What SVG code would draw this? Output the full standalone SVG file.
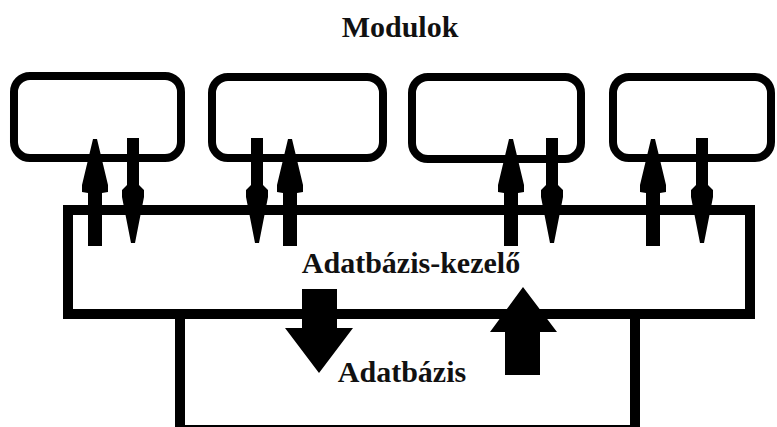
<svg xmlns="http://www.w3.org/2000/svg" width="777" height="427" viewBox="0 0 777 427">
<style>
.mod{fill:none;stroke:#000;stroke-width:8}
.box{fill:none;stroke:#000;stroke-width:10}
.lbl{font-family:'Liberation Serif','DejaVu Serif',serif;font-weight:bold;font-size:30px;fill:#111;text-anchor:middle}
.arr{fill:#000;stroke:none}
</style>
<defs>
<path id="up" d="M-2,139 L2,139 L13,185 L13,192 L7,193 L7,246 L-7,246 L-7,193 L-13,192 L-13,185 Z"/>
<path id="down" d="M-6,138 L6,138 L6,185 L11,190 L11,197 L2,243 L-2,243 L-11,197 L-11,190 L-6,185 Z"/>
</defs>
<rect width="777" height="427" fill="#fff"/>
<g id="title"><text class="lbl" x="400" y="37">Modulok</text></g>
<g id="modul1"><rect class="mod" x="14" y="76" width="167" height="82" rx="16"/></g>
<g id="modul2"><rect class="mod" x="212" y="77" width="171" height="81" rx="16"/></g>
<g id="modul3"><rect class="mod" x="412" y="77" width="169" height="82" rx="16"/></g>
<g id="modul4"><rect class="mod" x="613" y="77" width="158" height="81" rx="16"/></g>
<g id="kezelo"><rect class="box" x="68" y="210" width="682" height="104"/><text class="lbl" x="411" y="273">Adatbázis-kezelő</text></g>
<g id="adatbazis"><rect class="box" x="180" y="314" width="455" height="116"/><text class="lbl" x="402" y="382">Adatbázis</text></g>
<g id="connectors" class="arr">
<use href="#up" x="95"/><use href="#down" x="133"/>
<use href="#down" x="257"/><use href="#up" x="290"/>
<use href="#up" x="511"/><use href="#down" x="552"/>
<use href="#up" x="653"/><use href="#down" x="702"/>
<path d="M302,289 L337,289 L337,328 L353,328 L319,373 L285,328 L302,328 Z"/>
<path d="M523,287 L557,332 L540,332 L540,375 L505,375 L505,332 L490,332 Z"/>
</g>
</svg>
